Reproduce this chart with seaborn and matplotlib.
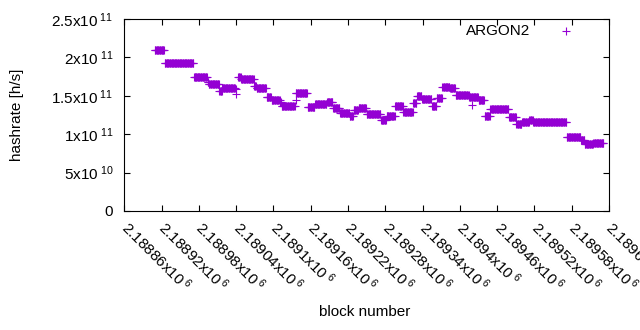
import numpy as np
import pandas as pd
import matplotlib
matplotlib.use("Agg")
import matplotlib.pyplot as plt
import seaborn as sns

# Runs of identical hashrate readings (first block, last block, value)
run_first = [2188909, 2188925, 2188972, 2188994, 2188996, 2189013, 2189018, 2189039, 2189040,
             2189043, 2189048, 2189069, 2189073, 2189089, 2189097, 2189111, 2189113, 2189137,
             2189136, 2189155, 2189167, 2189186, 2189196, 2189207, 2189223, 2189229, 2189237,
             2189250, 2189273, 2189282, 2189296, 2189309, 2189325, 2189331, 2189339, 2189355,
             2189363, 2189372, 2189384, 2189393, 2189415, 2189419, 2189430, 2189440, 2189449,
             2189479, 2189491, 2189500, 2189512, 2189518, 2189572, 2189595, 2189601, 2189615]
run_last = [2188924, 2188971, 2188993, 2188995, 2189012, 2189017, 2189038, 2189039, 2189040,
            2189047, 2189068, 2189072, 2189088, 2189096, 2189110, 2189112, 2189134, 2189137,
            2189154, 2189166, 2189185, 2189195, 2189206, 2189222, 2189228, 2189236, 2189249,
            2189272, 2189281, 2189295, 2189308, 2189324, 2189330, 2189338, 2189354, 2189362,
            2189371, 2189383, 2189392, 2189414, 2189429, 2189419, 2189439, 2189448, 2189478,
            2189490, 2189499, 2189511, 2189517, 2189571, 2189594, 2189600, 2189614, 2189631]
run_hashrate = [2.09e11, 1.923e11, 1.74e11, 1.68e11, 1.65e11, 1.565e11, 1.605e11, 1.585e11, 1.52e11,
                1.75e11, 1.72e11, 1.63e11, 1.598e11, 1.488e11, 1.445e11, 1.42e11, 1.363e11, 1.445e11,
                1.532e11, 1.36e11, 1.39e11, 1.415e11, 1.337e11, 1.272e11, 1.237e11, 1.32e11, 1.337e11,
                1.26e11, 1.185e11, 1.233e11, 1.371e11, 1.293e11, 1.402e11, 1.497e11, 1.454e11, 1.367e11,
                1.47e11, 1.618e11, 1.597e11, 1.507e11, 1.484e11, 1.38e11, 1.441e11, 1.237e11, 1.33e11,
                1.22e11, 1.129e11, 1.155e11, 1.181e11, 1.155e11, 0.964e11, 0.92e11, 0.87e11, 0.885e11]

x_ticks = [2188860, 2188920, 2188980, 2189040, 2189100, 2189160, 2189220,
           2189280, 2189340, 2189400, 2189460, 2189520, 2189580, 2189640]
x_tick_labels = [r"2.18886x10$^{\ 6}$", r"2.18892x10$^{\ 6}$", r"2.18898x10$^{\ 6}$", r"2.18904x10$^{\ 6}$",
                 r"2.1891x10$^{\ 6}$", r"2.18916x10$^{\ 6}$", r"2.18922x10$^{\ 6}$", r"2.18928x10$^{\ 6}$",
                 r"2.18934x10$^{\ 6}$", r"2.1894x10$^{\ 6}$", r"2.18946x10$^{\ 6}$", r"2.18952x10$^{\ 6}$",
                 r"2.18958x10$^{\ 6}$", r"2.18964x10$^{\ 6}$"]
y_ticks = [0, 5e10, 1e11, 1.5e11, 2e11, 2.5e11]
y_tick_labels = ["0", r"5x10$^{\ 10}$", r"1x10$^{\ 11}$", r"1.5x10$^{\ 11}$",
                 r"2x10$^{\ 11}$", r"2.5x10$^{\ 11}$"]

# one reading per block inside each run
blocks, values = [], []
for f, l, v in zip(run_first, run_last, run_hashrate):
    b = np.arange(f, l + 1)
    blocks.extend(b.tolist())
    values.extend([v] * len(b))
df = pd.DataFrame({"block": blocks, "hashrate": values})

sns.set_theme(style="ticks")
plt.rcParams["font.family"] = ["Liberation Sans", "DejaVu Sans"]
plt.rcParams["mathtext.fontset"] = "custom"
plt.rcParams["mathtext.rm"] = "Liberation Sans"
plt.rcParams["mathtext.it"] = "Liberation Sans:italic"
plt.rcParams["mathtext.bf"] = "Liberation Sans:bold"
plt.rcParams["mathtext.default"] = "regular"

fig = plt.figure(figsize=(6.4, 3.3), dpi=100)
ax = fig.add_axes([124.3 / 640, 1 - 211 / 330, 484.7 / 640, 192 / 330])

color = "#9400D3"
sns.scatterplot(data=df, x="block", y="hashrate", marker="+", s=26, color=color,
                linewidth=0.8, label="ARGON2", ax=ax, zorder=3)

ax.set_xlim(2188860, 2189640)
ax.set_ylim(0, 2.5e11)
ax.set_xticks(x_ticks)
ax.set_xticklabels(x_tick_labels, rotation=-45, ha="left", va="center",
                   rotation_mode="anchor", fontsize=11)
ax.set_yticks(y_ticks)
ax.set_yticklabels(y_tick_labels, fontsize=11)
ax.tick_params(axis="both", direction="in", length=4, width=0.8, color="black",
               top=True, right=True, labelcolor="black")
ax.tick_params(axis="x", pad=10)
ax.tick_params(axis="y", pad=8)
for sp in ax.spines.values():
    sp.set_color("black")
    sp.set_linewidth(0.8)

ax.set_xlabel("block number", fontsize=11, color="black")
ax.set_ylabel("hashrate [h/s]", fontsize=11, color="black")
ax.xaxis.set_label_coords(0.4966, -0.49)
ax.yaxis.set_label_coords(-0.206, 0.5)

leg = ax.legend(loc="center right", bbox_to_anchor=(0.942, 0.9375), frameon=False,
                markerfirst=False, fontsize=11, handlelength=2.0, handletextpad=1.29,
                borderaxespad=0, borderpad=0)
for t in leg.get_texts():
    t.set_color("black")

fig.savefig("out.png", dpi=100)
